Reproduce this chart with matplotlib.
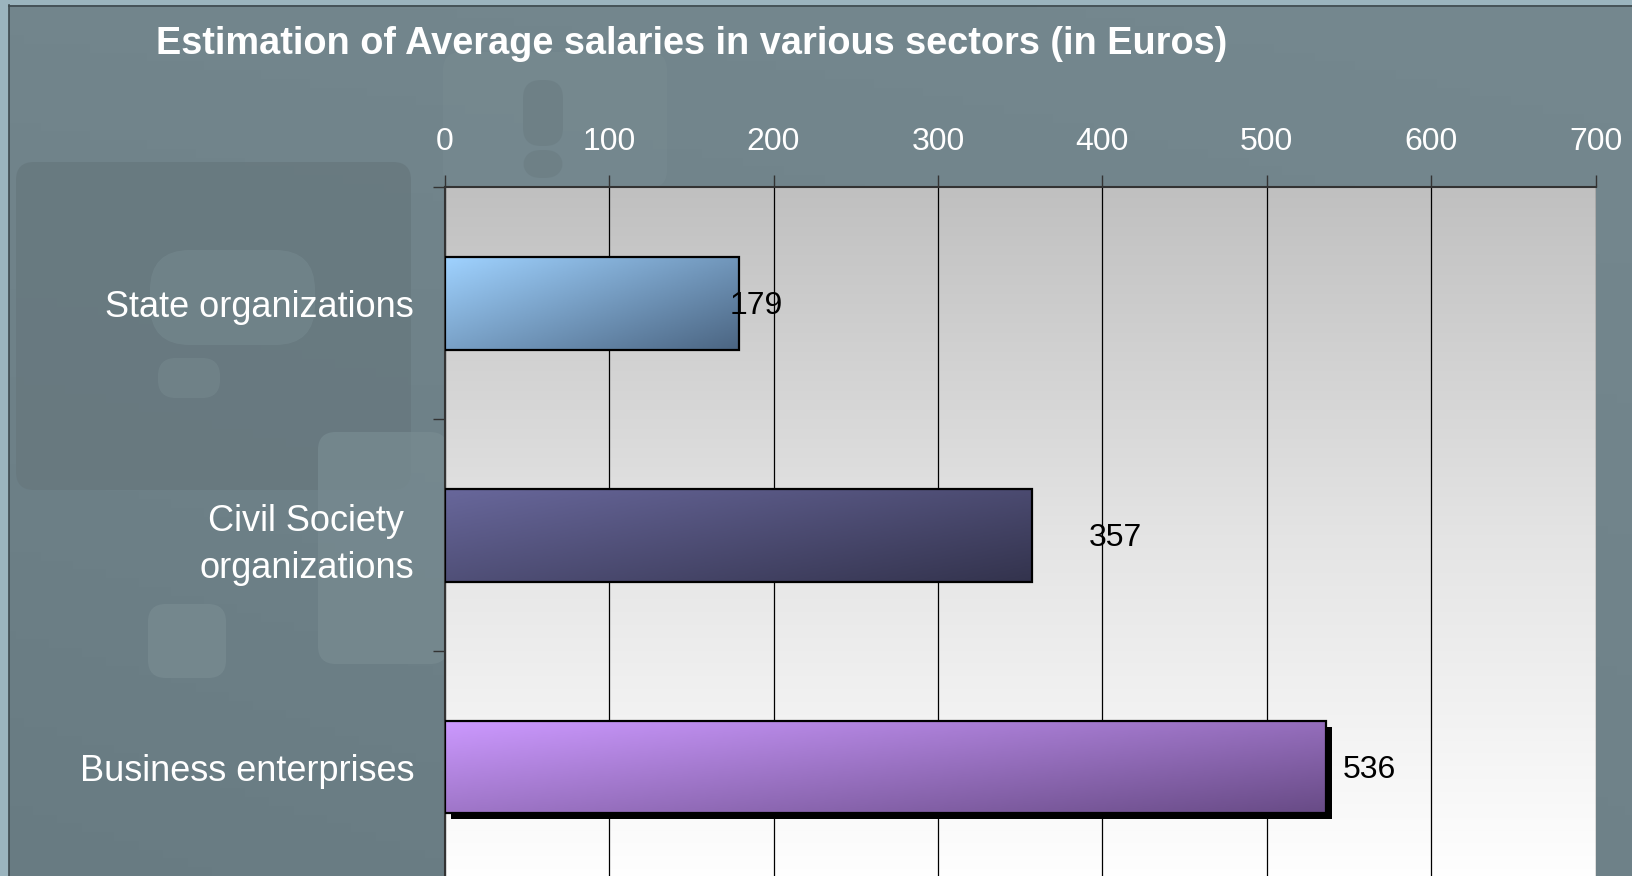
import numpy as np
import matplotlib.pyplot as plt
from matplotlib.patches import Rectangle, FancyBboxPatch
from matplotlib.colors import LinearSegmentedColormap
from matplotlib import transforms

sectors = ["State organizations", "Civil Society \norganizations", "Business enterprises"]
salaries = [179, 357, 536]
x_ticks = [0, 100, 200, 300, 400, 500, 600, 700]
title = "Estimation of Average salaries in various sectors (in Euros)"

# styling per bar
bar_light = ["#9fd2ff", "#68679b", "#cc99ff"]
bar_dark = ["#4b6582", "#33334d", "#684b86"]
label_dx = [-6, 35, 10]
has_shadow = [False, False, True]

plt.rcParams['font.family'] = ['Liberation Sans', 'DejaVu Sans']
W, H = 1633, 876
fig = plt.figure(figsize=(W / 100, H / 100), dpi=100)

# slide background with faint watermark shapes
bg = fig.add_axes([0, 0, 1, 1], zorder=-10)
bg.set_xlim(0, W)
bg.set_ylim(H, 0)
bg.axis('off')
yy, xx = np.mgrid[0:1:100j, 0:1:200j]
base = np.array([0x6c, 0x7f, 0x86]) / 255
shade = (0.025 * (1 - yy) + 0.01 * xx - 0.015 * (1 - xx) * yy)[..., None]
bg.imshow(np.clip(base + shade, 0, 1), extent=[0, W, H, 0], aspect='auto')

marks = [  # x, y, w, h, color (pixels, y downward)
    (16, 162, 395, 328, "#67787e"),
    (443, 52, 224, 136, "#76898f"),
    (523, 80, 40, 66, "#6d7f85"),
    (523, 150, 40, 28, "#6d7f85"),
    (318, 432, 130, 232, "#778a90"),
    (148, 604, 78, 74, "#778a90"),
    (158, 358, 62, 40, "#72848a"),
]
for x, y, w, h, c in marks:
    bg.add_patch(FancyBboxPatch((x, y), w, h, boxstyle="round,pad=0,rounding_size=18",
                                fc=c, ec='none', alpha=0.8))
bg.add_patch(FancyBboxPatch((150, 250), 165, 95, boxstyle="round,pad=0,rounding_size=40",
                            fc="#72858b", ec='none', alpha=0.8))
# light frame at left and top
bg.add_patch(Rectangle((0, 0), 9, H, fc="#9bb4be", ec='none'))
bg.add_patch(Rectangle((0, 0), W, 5, fc="#9bb4be", ec='none'))
bg.plot([9.5, 9.5], [5, H], color="#3e4a4f", lw=1.2)
bg.plot([9.5, W], [5.5, 5.5], color="#3e4a4f", lw=1.2)

fig.text(156 / W, 1 - 44 / H, title, color='white', fontsize=27.3, fontweight='bold',
         ha='left', va='center')

ax = fig.add_axes([444.7 / W, -7 / H, 1151 / W, 695.5 / H])
ax.set_facecolor('none')

# plot area gradient grey -> white
grad = np.linspace(0, 1, 256)[:, None]
area_cmap = LinearSegmentedColormap.from_list("area", ["#c0c0c0", "#e4e4e4", "#ffffff"])
ax.imshow(grad, extent=[0, 700, 2.5, -0.5], aspect='auto', cmap=area_cmap, zorder=-2)

ys = np.arange(len(sectors))
h = 0.4
u, v = np.meshgrid(np.linspace(0, 1, 200), np.linspace(0, 1, 60))
diag = 0.55 * u + 0.45 * v
for i, val in enumerate(salaries):
    rect = Rectangle((0, ys[i] - h / 2), val, h, fc='none', ec='black', lw=1.6, zorder=4)
    if has_shadow[i]:
        off = transforms.offset_copy(ax.transData, fig=fig, x=6, y=-6, units='dots')
        ax.add_patch(Rectangle((0, ys[i] - h / 2), val, h, fc='black', ec='none',
                               transform=off, zorder=2))
    ax.add_patch(rect)
    cm = LinearSegmentedColormap.from_list("b%d" % i, [bar_light[i], bar_dark[i]])
    im = ax.imshow(diag, extent=[0, val, ys[i] + h / 2, ys[i] - h / 2], aspect='auto',
                   cmap=cm, zorder=3)
    im.set_clip_path(rect)
    ax.text(val + label_dx[i], ys[i] + 0.012, str(val), ha='left', va='center', fontsize=23,
            color='black', zorder=5)

ax.set_xlim(0, 700)
ax.set_ylim(2.5, -0.5)
ax.set_xticks(x_ticks)
ax.xaxis.tick_top()
ax.tick_params(axis='x', colors='#333333', labelcolor='white', labelsize=23,
               length=9, width=1, pad=13)
ax.xaxis.grid(True, color='black', lw=0.9, zorder=1)
ax.set_axisbelow(True)

ax.set_yticks([-0.5, 0.5, 1.5, 2.5])
ax.set_yticklabels([])
ax.set_yticks(ys, minor=True)
ax.set_yticklabels(sectors, minor=True)
ax.tick_params(axis='y', which='major', colors='#333333', length=9, width=1)
ax.tick_params(axis='y', which='minor', length=0, pad=22, labelcolor='white', labelsize=26)
for lbl in ax.get_yticklabels(minor=True):
    lbl.set_multialignment('right')
    lbl.set_linespacing(1.45)

for s in ['right', 'bottom']:
    ax.spines[s].set_visible(False)
for s in ['top', 'left']:
    ax.spines[s].set_color('#333333')
    ax.spines[s].set_linewidth(1.5)

fig.savefig("out.png", dpi=100)
